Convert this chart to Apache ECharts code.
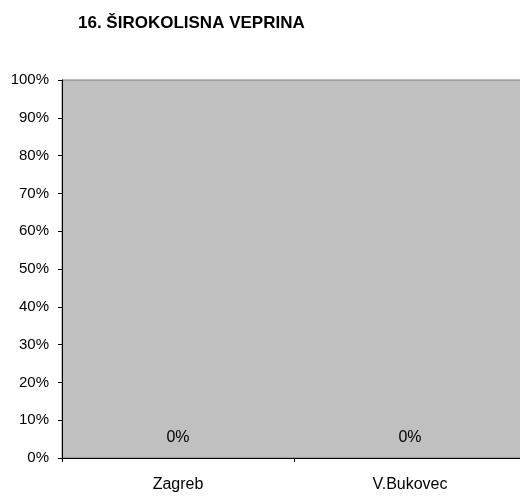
<!DOCTYPE html>
<html>
<head>
<meta charset="utf-8">
<script src="https://cdn.jsdelivr.net/npm/echarts@6/dist/echarts.min.js"></script>
<style>html,body{margin:0;padding:0;background:#fff}#c{width:520px;height:498px}</style>
</head>
<body>
<div id="c"></div>
<script>
const title = '16. ŠIROKOLISNA VEPRINA';
const categories = ['Zagreb', 'V.Bukovec'];
const values = [0, 0];
const yTicks = [0, 10, 20, 30, 40, 50, 60, 70, 80, 90, 100];

const chart = echarts.init(document.getElementById('c'), null, {renderer: 'canvas'});
const font = 'Arial, "Liberation Sans", sans-serif';
chart.setOption({
  animation: false,
  title: {
    text: title, left: 73, top: 10,
    textStyle: {fontFamily: font, fontSize: 17, fontWeight: 'bold', color: '#000'}
  },
  grid: {
    left: 62, top: 80, width: 464, bottom: 40,
    outerBoundsMode: 'none', containLabel: false,
    show: true, backgroundColor: '#C0C0C0', borderColor: '#808080', borderWidth: 1
  },
  xAxis: {
    type: 'category', data: categories,
    axisLine: {lineStyle: {color: '#000', width: 1}},
    axisTick: {show: true, length: 4, lineStyle: {color: '#000'}},
    axisLabel: {color: '#000', fontFamily: font, fontSize: 16, margin: 19},
    splitLine: {show: false}
  },
  yAxis: {
    type: 'value', min: yTicks[0], max: yTicks[yTicks.length - 1], interval: 10,
    axisLine: {show: true, lineStyle: {color: '#000', width: 1}},
    axisTick: {show: true, length: 4, lineStyle: {color: '#000'}},
    axisLabel: {color: '#000', fontFamily: font, fontSize: 15, margin: 13, formatter: v => v + '%'},
    splitLine: {show: false}
  },
  series: [{
    type: 'bar', data: values, barWidth: '50%',
    itemStyle: {color: '#9999FF'},
    label: {show: true, position: 'top', distance: 12, color: '#000', fontFamily: font, fontSize: 16, formatter: p => p.value + '%'}
  }]
});
</script>
</body>
</html>
